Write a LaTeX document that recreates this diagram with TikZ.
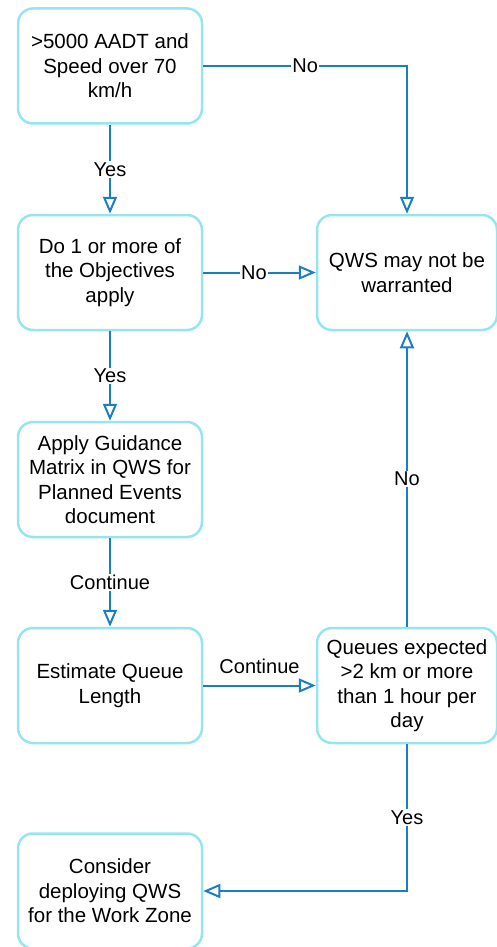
\documentclass[tikz,border=0pt]{standalone}
\usepackage{fontspec}
\setmainfont{Liberation Sans}
\usetikzlibrary{arrows.meta}
\definecolor{boxc}{RGB}{150,228,238}
\definecolor{linec}{RGB}{26,126,192}
\begin{document}
\begin{tikzpicture}[x=1pt,y=-1pt,
  box/.style={draw=boxc, line width=2.5pt, rounded corners=15pt, minimum width=184pt, minimum height=115pt, align=center, font=\fontsize{20.5}{24.5}\selectfont, inner sep=0pt},
  rbox/.style={box, minimum width=180pt},
  conn/.style={draw=linec, line width=2pt, -{Triangle[open,length=17pt,width=14pt]}},
  lbl/.style={fill=white, inner sep=1.5pt, font=\fontsize{20}{24}\selectfont, text=black}]
\useasboundingbox (0,0) rectangle (497,947);
\node[box] (A) at (110,66) {>5000 AADT and\\Speed over 70\\km/h};
\node[box] (B) at (110,272.5) {Do 1 or more of\\the Objectives\\apply};
\node[box] (C) at (110,479.5) {Apply Guidance\\Matrix in QWS for\\Planned Events\\document};
\node[box] (D) at (110,685.5) {Estimate Queue\\Length};
\node[box] (F) at (110,891) {Consider\\deploying QWS\\for the Work Zone};
\node[rbox] (Q) at (407,272.5) {QWS may not be\\warranted};
\node[rbox] (E) at (407,685.5) {Queues expected\\>2 km or more\\than 1 hour per\\day};

\draw[conn] (A.east) -- (A.east -| Q.north) node[lbl, midway] {No} -- (Q.north);
\draw[conn] (A.south) -- node[lbl] {Yes} (B.north);
\draw[conn] (B.east) -- node[lbl, pos=0.45] {No} (Q.west);
\draw[conn] (B.south) -- node[lbl] {Yes} (C.north);
\draw[conn] (C.south) -- node[lbl] {Continue} (D.north);
\draw[conn] (D.east) -- node[lbl, yshift=19pt] {Continue} (E.west);
\draw[conn] (E.north) -- node[lbl] {No} (Q.south);
\draw[conn] (E.south) |- node[lbl, pos=0.25] {Yes} (F.east);
\end{tikzpicture}
\end{document}
